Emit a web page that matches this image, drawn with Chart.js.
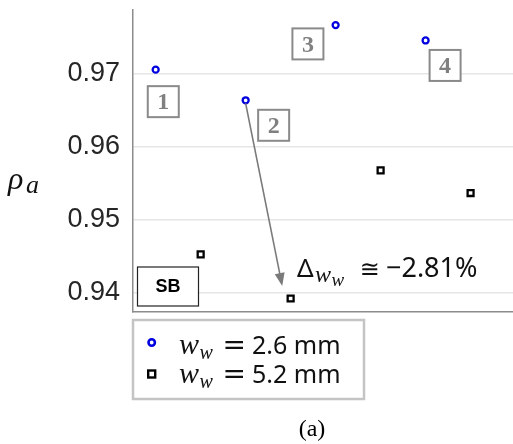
<!DOCTYPE html>
<html>
<head>
<meta charset="utf-8">
<script src="https://cdn.jsdelivr.net/npm/chart.js@4/dist/chart.umd.min.js"></script>
<style>
  html, body { margin: 0; padding: 0; background: #fff; overflow: hidden; }
  /* the canvas runs a few pixels past the frame so the plot reaches the right edge */
  #wrap { position: relative; width: 513px; height: 444px; overflow: hidden; }
  #c { display: block; }
</style>
</head>
<body>
<div id="wrap"><canvas id="c" width="520" height="444"></canvas></div>
<script>
// Design points 1..4, each measured at two winding widths
const categories = ['1', '2', '3', '4'];
const categoryPos = [1, 2, 3, 4];
const rhoNarrow = [0.9706, 0.9664, 0.9767, 0.9746];   // w_w = 2.6 mm
const rhoWide   = [0.9453, 0.93925, 0.9568, 0.9537];  // w_w = 5.2 mm
const yTicks = [0.94, 0.95, 0.96, 0.97];
const deltaLabel = '\u22122.81%';

const SERIF = '"Liberation Serif", "DejaVu Serif", serif';
const SANS = '"Liberation Sans", Arial, sans-serif';
const MATH = '"Noto Sans", "DejaVu Sans", sans-serif';

// draws a sequence of text runs, each with its own font, baseline shift and x position
function drawRuns(ctx, x, y, runs, color) {
  ctx.save();
  ctx.fillStyle = color;
  ctx.textAlign = 'left';
  ctx.textBaseline = 'alphabetic';
  let cx = x;
  for (const r of runs) {
    ctx.font = r.font;
    if (r.x !== undefined) cx = r.x;
    ctx.fillText(r.t, cx, y + (r.dy || 0));
    cx += ctx.measureText(r.t).width + (r.gap || 0);
  }
  ctx.restore();
}

function noPadding(s) {
  s.paddingTop = 0; s.paddingBottom = 0; s.paddingLeft = 0; s.paddingRight = 0;
}

const overlay = {
  id: 'overlay',
  afterDatasetsDraw(chart) {
    const ctx = chart.ctx;
    const xs = chart.scales.x, ys = chart.scales.y;
    const px = i => xs.getPixelForValue(categoryPos[i]);
    const pyN = i => ys.getPixelForValue(rhoNarrow[i]);
    const pyW = i => ys.getPixelForValue(rhoWide[i]);

    // numbered design boxes next to each narrow-width point
    const boxOffsets = [[7.6, 32], [28, 25], [-27.7, 18.8], [19.5, 25]];
    ctx.save();
    categories.forEach((lab, i) => {
      const cx = px(i) + boxOffsets[i][0];
      const cy = pyN(i) + boxOffsets[i][1];
      ctx.fillStyle = '#fff';
      ctx.fillRect(cx - 15.5, cy - 15.5, 31, 31);
      ctx.strokeStyle = '#8a8a8a';
      ctx.lineWidth = 2;
      ctx.strokeRect(cx - 15.5, cy - 15.5, 31, 31);
      ctx.fillStyle = '#808080';
      ctx.font = 'bold 24px ' + SERIF;
      ctx.textAlign = 'center';
      ctx.textBaseline = 'middle';
      ctx.fillText(lab, cx, cy + 1.5);
    });
    ctx.restore();

    // arrow from point 2 (narrow) down to point 2 (wide)
    const x0 = px(1), y0 = pyN(1) + 3;
    const x1 = xs.getPixelForValue(categoryPos[1] + 0.5) - 8.4, y1 = pyW(1) - 12.6;
    const ang = Math.atan2(y1 - y0, x1 - x0);
    ctx.save();
    ctx.strokeStyle = '#7a7a7a';
    ctx.fillStyle = '#7a7a7a';
    ctx.lineWidth = 1.6;
    ctx.beginPath();
    ctx.moveTo(x0, y0);
    ctx.lineTo(x1 - 10 * Math.cos(ang), y1 - 10 * Math.sin(ang));
    ctx.stroke();
    ctx.beginPath();
    ctx.moveTo(x1, y1);
    ctx.lineTo(x1 - 13 * Math.cos(ang) + 5 * Math.sin(ang), y1 - 13 * Math.sin(ang) - 5 * Math.cos(ang));
    ctx.lineTo(x1 - 13 * Math.cos(ang) - 5 * Math.sin(ang), y1 - 13 * Math.sin(ang) + 5 * Math.cos(ang));
    ctx.closePath();
    ctx.fill();
    ctx.restore();

    // relative change label
    drawRuns(ctx, 297, 277, [
      { t: '\u0394', font: '26px ' + MATH },
      { t: 'w', font: 'italic 24px ' + SERIF, x: 315, dy: 5 },
      { t: 'w', font: 'italic 19px ' + SERIF, x: 331.5, dy: 8.5 },
      { t: '\u2245', font: '24px "DejaVu Sans", sans-serif', x: 359.5 },
      { t: deltaLabel, font: '27px ' + MATH, x: 386 }
    ], '#111');

    // SB tag in the lower-left corner
    const a = chart.chartArea;
    ctx.save();
    ctx.fillStyle = '#fff';
    ctx.fillRect(a.left + 4.5, 267, 61, 39);
    ctx.strokeStyle = '#222';
    ctx.lineWidth = 1.2;
    ctx.strokeRect(a.left + 4.5, 267, 61, 39);
    ctx.fillStyle = '#000';
    ctx.font = 'bold 18px ' + SANS;
    ctx.textAlign = 'center';
    ctx.textBaseline = 'middle';
    ctx.fillText('SB', a.left + 35, 287.5);
    ctx.restore();

    // y-axis title rho_a
    drawRuns(ctx, 8, 189, [
      { t: '\u03C1', font: 'italic 32px ' + SERIF },
      { t: 'a', font: 'italic 26px ' + SERIF, x: 26, dy: 4 }
    ], '#111');

    // legend
    ctx.save();
    ctx.strokeStyle = '#c4c4c4';
    ctx.lineWidth = 2.5;
    ctx.strokeRect(133, 320, 231, 79);
    ctx.beginPath();
    ctx.arc(151.7, 342.5, 3.2, 0, Math.PI * 2);
    ctx.strokeStyle = '#0000e0';
    ctx.lineWidth = 2.6;
    ctx.stroke();
    ctx.strokeStyle = '#000';
    ctx.lineWidth = 2.4;
    ctx.strokeRect(148.2, 370.5, 7, 7);
    ctx.restore();
    const legendValues = ['2.6 mm', '5.2 mm'];
    [354.3, 383.3].forEach((by, k) => {
      drawRuns(ctx, 179, by, [
        { t: 'w', font: 'italic 30px ' + SERIF },
        { t: 'w', font: 'italic 20px ' + SERIF, x: 199.5, dy: 5 },
        { t: '=', font: '28px "DejaVu Sans", sans-serif', x: 222.5 },
        { t: legendValues[k], font: '25px ' + MATH, x: 252 }
      ], '#111');
    });

    // panel caption
    ctx.save();
    ctx.fillStyle = '#000';
    ctx.font = '24px ' + SERIF;
    ctx.textAlign = 'center';
    ctx.textBaseline = 'alphabetic';
    ctx.fillText('(a)', 312, 436);
    ctx.restore();
  }
};

new Chart(document.getElementById('c'), {
  type: 'scatter',
  data: {
    datasets: [
      {
        label: 'w_w = 2.6 mm',
        data: categoryPos.map((x, i) => ({ x: x, y: rhoNarrow[i] })),
        pointStyle: 'circle',
        radius: 3,
        borderWidth: 2.3,
        borderColor: '#0000e0',
        backgroundColor: '#fff'
      },
      {
        label: 'w_w = 5.2 mm',
        data: categoryPos.map((x, i) => ({ x: x + 0.5, y: rhoWide[i] })),
        pointStyle: 'rect',
        radius: 4.2,
        borderWidth: 2.3,
        borderColor: '#000',
        backgroundColor: '#fff'
      }
    ]
  },
  options: {
    responsive: false,
    devicePixelRatio: 1,
    animation: false,
    layout: { padding: { left: 0, right: 0, top: 10, bottom: 132 } },
    plugins: { legend: { display: false }, tooltip: { enabled: false } },
    scales: {
      x: {
        type: 'linear',
        min: 0.748,
        max: 4.977,
        grid: { display: false },
        ticks: { display: false },
        border: { display: true, color: '#8c8c8c', width: 1.5 },
        afterFit(s) { s.height = 0; noPadding(s); }
      },
      y: {
        min: 0.9374,
        max: 0.97877,
        afterBuildTicks(s) { s.ticks = yTicks.map(v => ({ value: v })); },
        afterFit(s) { s.width = 133; noPadding(s); },
        grid: { color: '#e6e6e6', lineWidth: 1.5, drawTicks: false },
        border: { display: true, color: '#8c8c8c', width: 1.5 },
        ticks: {
          padding: 13,
          color: '#262626',
          font: { family: 'Liberation Sans', size: 27 },
          callback: v => v.toFixed(2)
        }
      }
    }
  },
  plugins: [overlay]
});
</script>
</body>
</html>
